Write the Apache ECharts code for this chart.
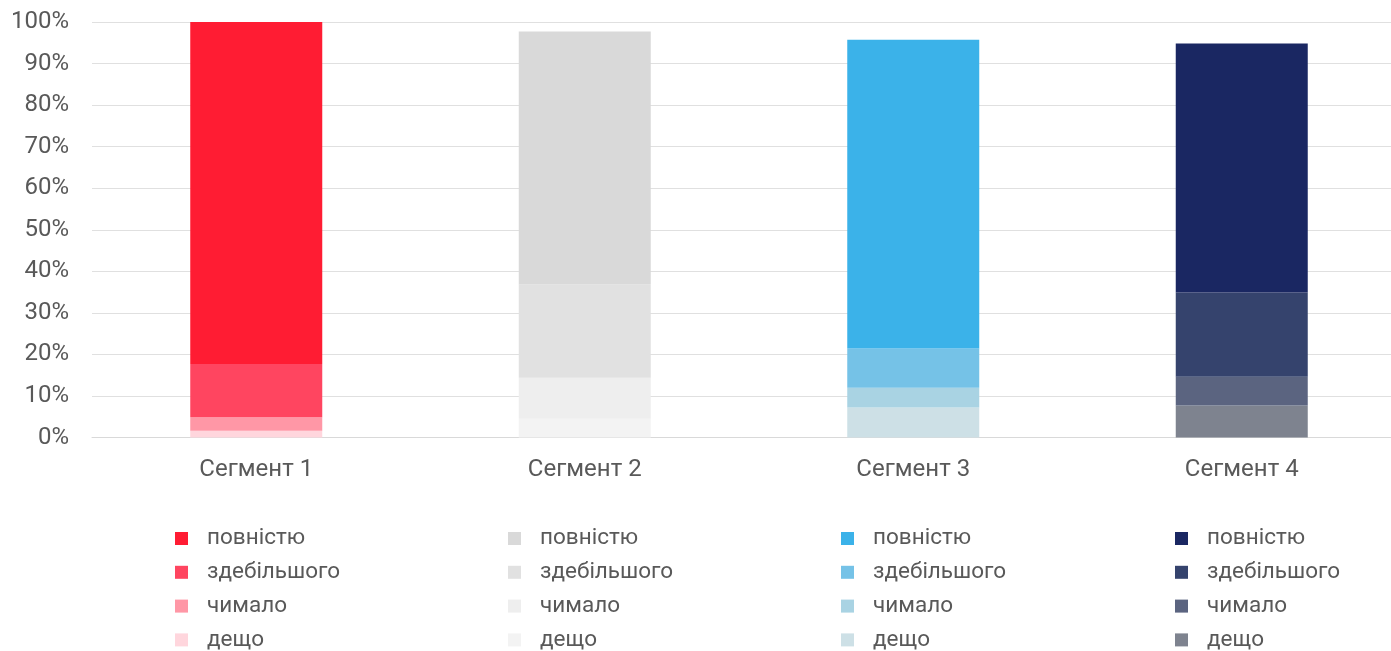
<!DOCTYPE html>
<html>
<head>
<meta charset="utf-8">
<script src="https://cdn.jsdelivr.net/npm/echarts@6/dist/echarts.min.js"></script>
<style>
  html, body { margin: 0; padding: 0; background: #fff; }
  #chart { width: 1391px; height: 651px; }
</style>
</head>
<body>
<div id="chart"></div>
<script>
// data
var segments = ['Сегмент 1', 'Сегмент 2', 'Сегмент 3', 'Сегмент 4'];
var levels = ['повністю', 'здебільшого', 'чимало', 'дещо'];
var povnistyu = [82.3, 60.9, 74.3, 59.9];
var zdebilshoho = [12.8, 22.4, 9.4, 20.3];
var chymalo = [3.3, 9.9, 4.8, 6.9];
var deshcho = [1.6, 4.5, 7.2, 7.7];
var yTicks = [0, 10, 20, 30, 40, 50, 60, 70, 80, 90, 100];

// colours per segment, same order as levels
var palette = [
    ['#ff1c33', '#ff4560', '#ff97a6', '#ffd6dd'],
    ['#d9d9d9', '#e1e1e1', '#eeeeee', '#f3f3f3'],
    ['#3bb2e9', '#75c2e7', '#a9d3e3', '#cde0e6'],
    ['#1a2762', '#35436d', '#5b6480', '#7e838f']
];

var textColor = '#595959';
var values = [povnistyu, zdebilshoho, chymalo, deshcho];

var series = [];
var legends = [];
var legendLeft = [175, 508, 841, 1175];

for (var s = 0; s < segments.length; s++) {
    var names = [];
    // bottom of the stack first
    for (var l = levels.length - 1; l >= 0; l--) {
        var data = segments.map(function (c, i) {
            return i === s ? values[l][i] : '-';
        });
        series.push({
            name: (s + 1) + '|' + levels[l],
            type: 'bar',
            stack: 'total',
            barWidth: 132,
            itemStyle: { color: palette[s][l] },
            data: data
        });
    }
    for (var k = 0; k < levels.length; k++) names.push((s + 1) + '|' + levels[k]);
    legends.push({
        orient: 'vertical',
        left: legendLeft[s],
        top: 527,
        height: 150,
        padding: 0,
        icon: 'rect',
        itemWidth: 13,
        itemHeight: 13,
        itemGap: 10.8,
        selectedMode: false,
        data: names,
        formatter: function (name) { return name.split('|')[1]; },
        textStyle: {
            color: textColor,
            fontSize: 22.5,
            lineHeight: 22,
            fontFamily: 'Roboto',
            padding: [0, 0, 0, 14]
        }
    });
}

var chart = echarts.init(document.getElementById('chart'));
chart.setOption({
    animation: false,
    grid: {
        left: 92, top: 22, width: 1314, height: 415.5,
        containLabel: false, outerBoundsMode: 'none'
    },
    legend: legends,
    xAxis: {
        type: 'category',
        data: segments,
        axisTick: { show: false },
        axisLine: { lineStyle: { color: '#d9d9d9', width: 1 } },
        axisLabel: { color: textColor, fontSize: 24, fontFamily: 'Roboto', margin: 20 }
    },
    yAxis: {
        type: 'value',
        min: yTicks[0],
        max: yTicks[yTicks.length - 1],
        interval: 10,
        axisLine: { show: false },
        axisTick: { show: false },
        splitLine: { lineStyle: { color: '#e0e0e0', width: 1 } },
        axisLabel: {
            color: textColor,
            fontSize: 24,
            fontFamily: 'Roboto',
            margin: 23,
            padding: [3, 0, 0, 0],
            formatter: '{value}%'
        }
    },
    series: series
});
</script>
</body>
</html>
